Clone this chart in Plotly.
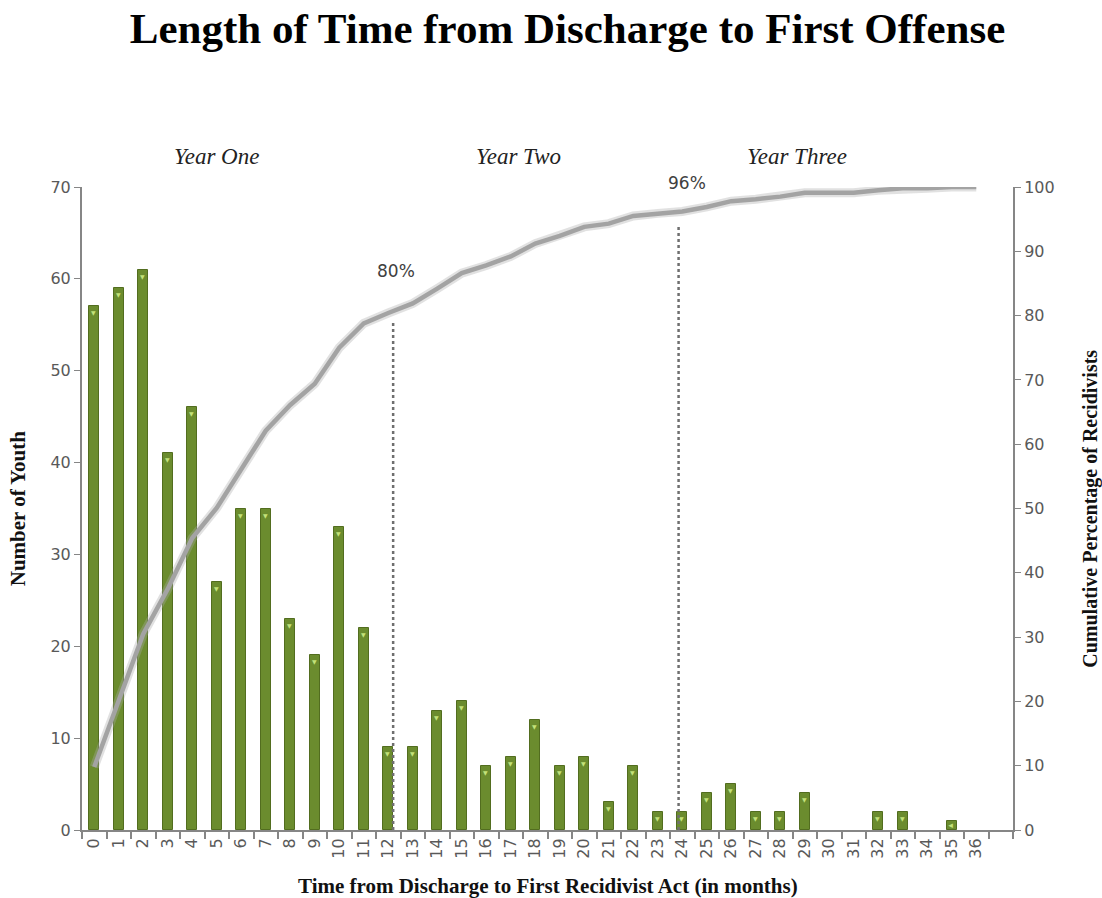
import plotly.graph_objects as go

# ---- data ----
months = list(range(0, 37))
month_labels = [str(m) for m in months]
youth_counts = [57, 59, 61, 41, 46, 27, 35, 35, 23, 19, 33, 22, 9, 9, 13, 14, 7, 8, 12, 7,
                8, 3, 7, 2, 2, 4, 5, 2, 2, 4, 0, 0, 2, 2, 0, 1, 0]
cumulative_pct = [9.8, 20.0, 30.5, 37.5, 45.4, 50.1, 56.1, 62.1, 66.1, 69.4, 75.0, 78.8,
                  80.4, 81.9, 84.2, 86.6, 87.8, 89.2, 91.2, 92.4, 93.8, 94.3, 95.5, 95.9,
                  96.2, 96.9, 97.8, 98.1, 98.5, 99.1, 99.1, 99.1, 99.5, 99.8, 99.8, 100.0, 100.0]
left_ticks = [0, 10, 20, 30, 40, 50, 60, 70]
right_ticks = [0, 10, 20, 30, 40, 50, 60, 70, 80, 90, 100]
PCT_MAX = 100

milestone_months = [12.2, 23.85]
milestone_tops = [79.2, 94.1]
milestone_labels = ["80%", "96%"]
milestone_label_x = [12.3, 24.2]
milestone_label_y = [86.9, 100.6]

year_labels = ["Year One", "Year Two", "Year Three"]
year_label_x = [5.0, 17.3, 28.7]

SANS = "DejaVu Sans"
SERIF = "Liberation Serif"
AXIS_GREY = "#868686"
TICK_GREY = "#595959"

fig = go.Figure()

# bars
fig.add_trace(go.Bar(
    x=months, y=youth_counts, width=0.41,
    marker=dict(color="#6b8c2e",
                line=dict(color="#526d1f", width=[1 if v > 0 else 0 for v in youth_counts])),
    text=["▼" if v > 0 else "" for v in youth_counts],
    textposition="inside", insidetextanchor="end",
    textfont=dict(color="#c3e27a", size=6, family=SANS),
    constraintext="none",
    yaxis="y", showlegend=False, hoverinfo="x+y",
))

# cumulative line: soft shadow + line
fig.add_trace(go.Scatter(
    x=months, y=cumulative_pct, yaxis="y2", mode="lines",
    line=dict(color="rgba(170,170,170,0.35)", width=9),
    showlegend=False, hoverinfo="skip",
))
fig.add_trace(go.Scatter(
    x=months, y=cumulative_pct, yaxis="y2", mode="lines",
    line=dict(color="#a3a3a3", width=4.5),
    showlegend=False,
))

# milestone dotted lines
for mx, top in zip(milestone_months, milestone_tops):
    fig.add_shape(type="line", xref="x", yref="y2", x0=mx, x1=mx, y0=0, y1=top,
                  line=dict(color="#6f6f6f", width=2.5, dash="dot"))

annotations = []
for lab, lx, ly in zip(milestone_labels, milestone_label_x, milestone_label_y):
    # y2 spans the full plot height (0..100), so paper fraction = pct / 100
    annotations.append(dict(text=lab, x=lx, y=ly / PCT_MAX, xref="x", yref="paper",
                            showarrow=False, xanchor="center", yanchor="middle",
                            font=dict(family=SANS, size=17, color="#404040")))
for lab, lx in zip(year_labels, year_label_x):
    annotations.append(dict(text="<i>" + lab + "</i>", x=lx, y=1.047, xref="x", yref="paper",
                            xanchor="center", yanchor="middle", showarrow=False,
                            font=dict(family=SERIF, size=23, color="#222222")))

annotations.append(dict(text="<b>Number of Youth</b>", x=-0.069, y=0.5, xref="paper", yref="paper",
                        xanchor="center", yanchor="middle", textangle=-90, showarrow=False,
                        font=dict(family=SERIF, size=21, color="#111111")))
annotations.append(dict(text="<b>Cumulative Percentage of Recidivists</b>", x=1.083, y=0.5,
                        xref="paper", yref="paper", xanchor="center", yanchor="middle",
                        textangle=-90, showarrow=False,
                        font=dict(family=SERIF, size=20, color="#111111")))
annotations.append(dict(text="<b>Time from Discharge to First Recidivist Act (in months)</b>",
                        x=0.5, y=-0.087, xref="paper", yref="paper", xanchor="center",
                        yanchor="middle", showarrow=False,
                        font=dict(family=SERIF, size=21, color="#111111")))

fig.update_layout(
    width=1102, height=898,
    margin=dict(l=82, r=89, t=187, b=68),
    paper_bgcolor="white", plot_bgcolor="white",
    title=dict(text="<b>Length of Time from Discharge to First Offense</b>",
               x=0.515, xanchor="center", y=0.969, yanchor="middle",
               font=dict(family=SERIF, size=43, color="#000000")),
    annotations=annotations,
    bargap=0,
    xaxis=dict(
        range=[-0.5, 37.5], tickmode="array", tickvals=months, ticktext=month_labels,
        tickangle=-90, ticks="", showline=True, linecolor=AXIS_GREY, linewidth=2,
        showgrid=False, zeroline=False,
        tickfont=dict(family=SANS, size=16, color=TICK_GREY),
        minor=dict(ticks="outside", tick0=0.5, dtick=1, ticklen=7, tickcolor=AXIS_GREY,
                   tickwidth=1.5, showgrid=False),
    ),
    yaxis=dict(
        range=[0, 70], tickmode="array", tickvals=left_ticks, ticks="outside", ticklen=6,
        tickcolor=AXIS_GREY, showline=True, linecolor=AXIS_GREY, linewidth=2,
        showgrid=False, zeroline=False,
        tickfont=dict(family=SANS, size=16, color=TICK_GREY),
    ),
    yaxis2=dict(
        range=[0, PCT_MAX], tickmode="array", tickvals=right_ticks, overlaying="y", side="right",
        ticks="outside", ticklen=6, tickcolor=AXIS_GREY, showline=True, linecolor=AXIS_GREY,
        linewidth=2, showgrid=False, zeroline=False,
        tickfont=dict(family=SANS, size=16, color=TICK_GREY),
    ),
)

fig.write_html("out.html")
